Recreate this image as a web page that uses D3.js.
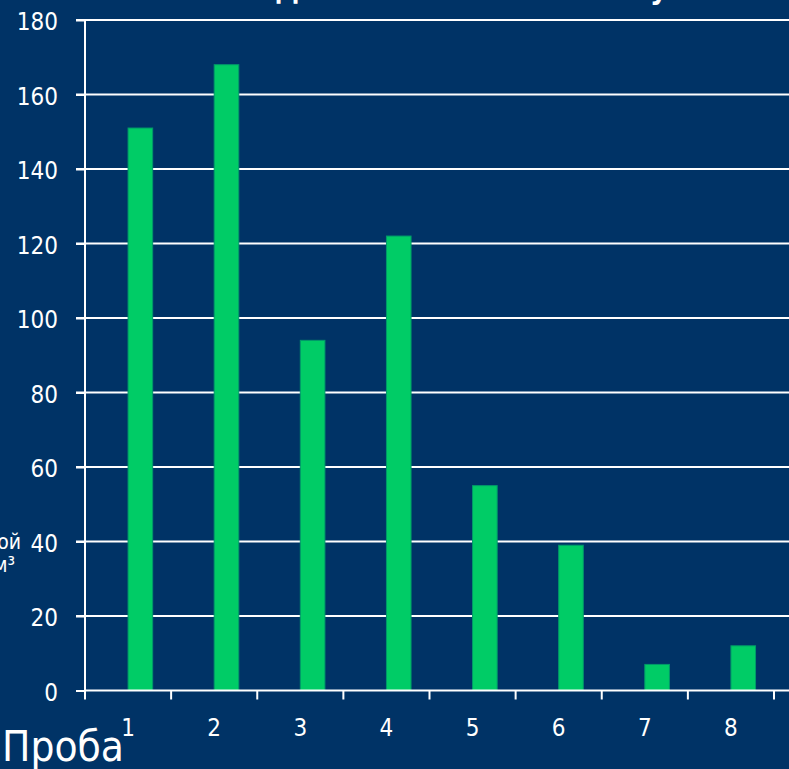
<!DOCTYPE html>
<html>
<head>
<meta charset="utf-8">
<script src="https://cdn.jsdelivr.net/npm/d3@7/dist/d3.min.js"></script>
<style>
  html, body { margin: 0; padding: 0; background: #003366; overflow: hidden; }
  svg { display: block; }
  text { font-family: "DejaVu Sans Condensed", "DejaVu Sans", sans-serif; font-stretch: condensed; fill: #ffffff; }
</style>
</head>
<body>
<svg id="chart" width="789" height="769"></svg>
<script>
// Sample numbers along the x axis
const categories = ["1", "2", "3", "4", "5", "6", "7", "8"];
// Measured value for each sample
const values = [151, 168, 94, 122, 55, 39, 7, 12];
// Value axis ticks
const yTicks = [0, 20, 40, 60, 80, 100, 120, 140, 160, 180];

const chartTitle = "Длительность жизни в сутках";
const xTitle = "Проба";
const yTitleLines = ["Количество частиц в воздушной", "среде, шт./дм³"];

const W = 789, H = 769;
const plot = { left: 85, right: 774, top: 20, bottom: 690.5, edge: 789 };

const svg = d3.select("#chart");
svg.append("rect").attr("width", W).attr("height", H).attr("fill", "#003366");

const x = d3.scaleBand().domain(categories).range([plot.left, plot.right]).paddingInner(0).paddingOuter(0);
const y = d3.scaleLinear().domain([0, 180]).range([plot.bottom, plot.top]);

// horizontal gridlines
svg.append("g")
  .selectAll("line")
  .data(yTicks.filter(d => d > 0))
  .join("line")
  .attr("x1", plot.left - 9)
  .attr("x2", plot.edge)
  .attr("y1", d => y(d))
  .attr("y2", d => y(d))
  .attr("stroke", "#ffffff")
  .attr("stroke-width", 2);

// bars sit in the right half of each category slot
const barW = x.bandwidth() / 3.5;
svg.append("g")
  .selectAll("rect")
  .data(categories.map((c, i) => ({ c, v: values[i] })))
  .join("rect")
  .attr("x", d => x(d.c) + x.bandwidth() / 2)
  .attr("y", d => y(d.v))
  .attr("width", barW)
  .attr("height", d => y(0) - y(d.v))
  .attr("fill", "#00cc66")
  .attr("stroke", "#009a6a")
  .attr("stroke-width", 1);

// value axis
const yAxis = svg.append("g")
  .attr("transform", `translate(${plot.left},0)`)
  .call(d3.axisLeft(y).tickValues(yTicks).tickSize(9).tickPadding(18).tickSizeOuter(0));
yAxis.select(".domain").remove();
yAxis.selectAll(".tick line").attr("stroke", "#ffffff").attr("stroke-width", 2);
yAxis.selectAll(".tick text")
  .attr("fill", "#ffffff")
  .attr("font-size", 24)
  .attr("dy", "0.4em")
  .style("font-family", null);
svg.append("line")
  .attr("x1", plot.left).attr("x2", plot.left)
  .attr("y1", plot.top).attr("y2", plot.bottom)
  .attr("stroke", "#ffffff").attr("stroke-width", 2);

// category axis
const xAxis = svg.append("g")
  .attr("transform", `translate(0,${y(0)})`)
  .call(d3.axisBottom(x).tickSize(0).tickPadding(28.5));
xAxis.select(".domain").remove();
xAxis.selectAll(".tick text")
  .attr("fill", "#ffffff")
  .attr("font-size", 24)
  .style("font-family", null);

svg.append("line")
  .attr("x1", plot.left).attr("x2", plot.edge)
  .attr("y1", y(0)).attr("y2", y(0))
  .attr("stroke", "#ffffff").attr("stroke-width", 2);

// tick marks on category boundaries
const bounds = categories.map(c => x(c)).concat([x.range()[1]]);
svg.append("g")
  .selectAll("line")
  .data(bounds)
  .join("line")
  .attr("x1", d => d).attr("x2", d => d)
  .attr("y1", y(0)).attr("y2", y(0) + 9)
  .attr("stroke", "#ffffff").attr("stroke-width", 2);

// chart title, mostly above the top edge; spread so that
// the first letter starts at titleStart and the "у" at titleU
const titleStart = 275, titleU = 650;
const title = svg.append("text")
  .attr("x", titleStart)
  .attr("y", -1)
  .attr("font-size", 30)
  .attr("font-weight", "bold")
  .text(chartTitle);
{
  const node = title.node();
  const uIdx = chartTitle.indexOf("у");
  const first = node.getStartPositionOfChar(0).x;
  const uPos = node.getStartPositionOfChar(uIdx).x;
  const spacing = ((titleU - titleStart) - (uPos - first)) / uIdx;
  title.attr("x", titleStart - (first - titleStart)).style("letter-spacing", spacing + "px");
}

// axis titles
svg.append("text")
  .attr("x", 2)
  .attr("y", 761)
  .attr("font-size", 42)
  .text(xTitle);

svg.append("g")
  .selectAll("text")
  .data(yTitleLines)
  .join("text")
  .attr("x", (d, i) => i === 0 ? 21 : 15)
  .attr("y", (d, i) => 549 + i * 23)
  .attr("text-anchor", "end")
  .attr("font-size", 21)
  .text(d => d);
</script>
</body>
</html>
